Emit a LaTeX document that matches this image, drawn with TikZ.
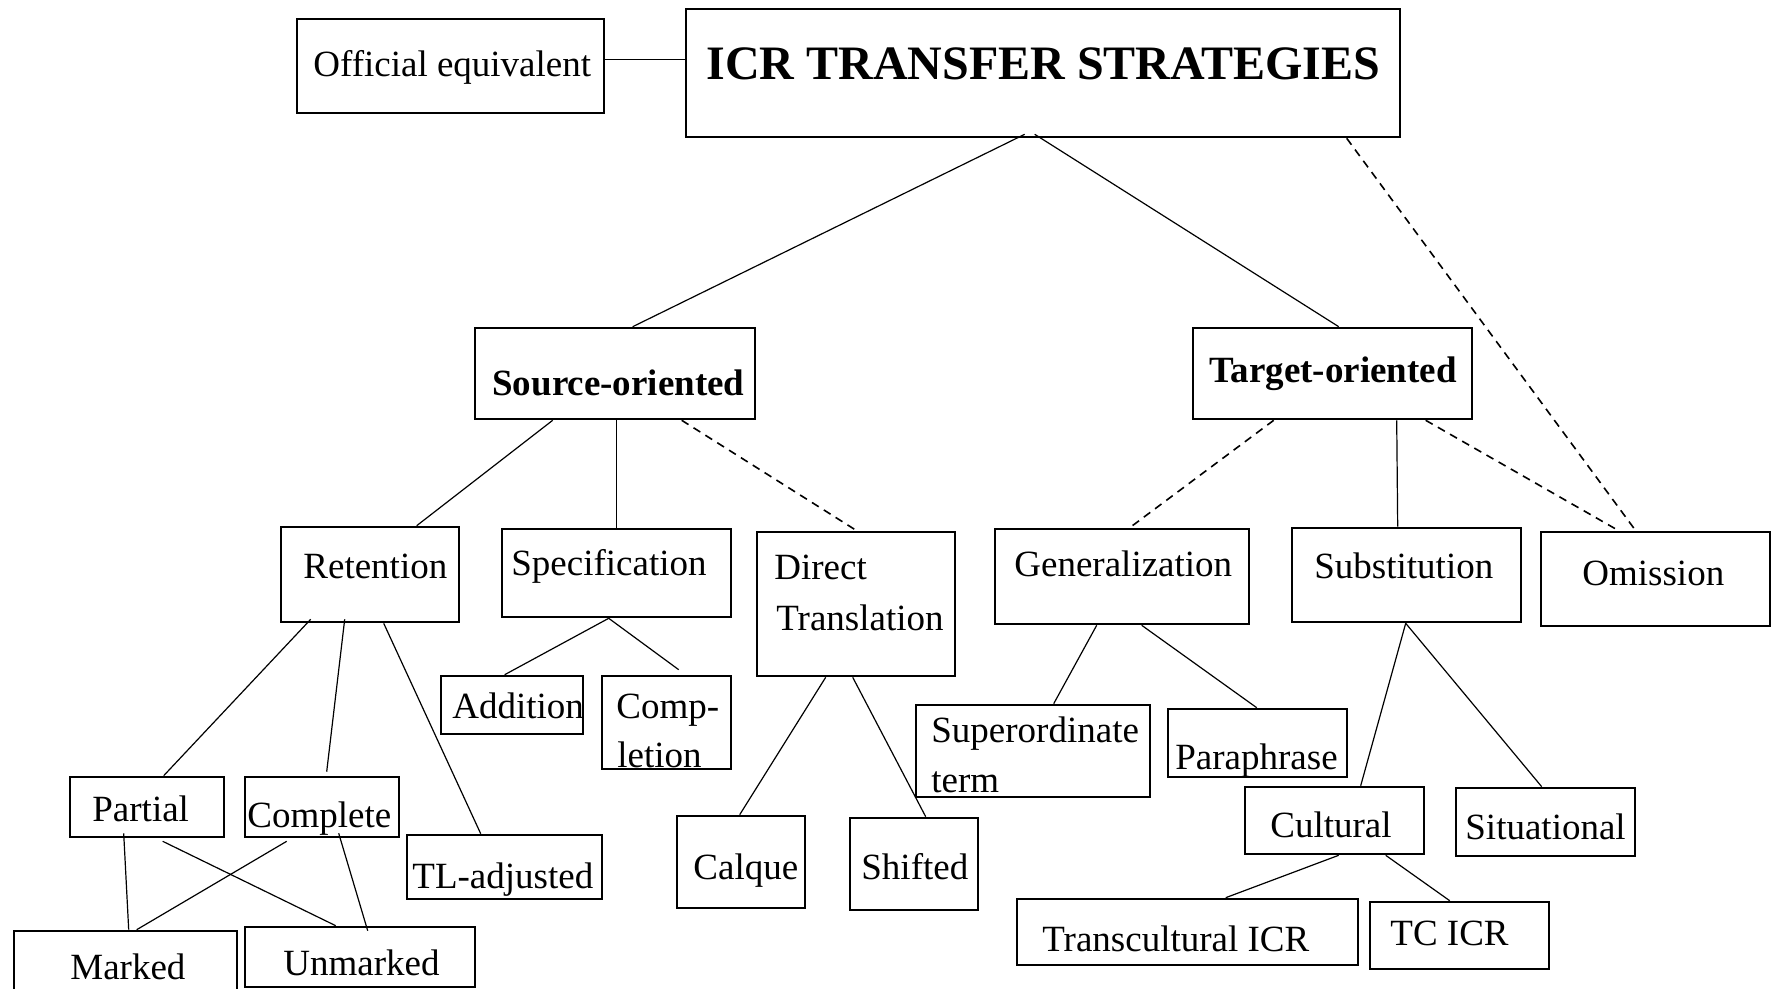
\documentclass[tikz,border=0pt]{standalone}
\usepackage{fontspec}
\setmainfont{Liberation Serif}
\usetikzlibrary{fit,calc}
\begin{document}
\begin{tikzpicture}[x=0.5pt,y=-0.5pt,
  bx/.style={draw, line width=1.3pt, inner sep=0pt, fit={#1}},
  tx/.style={anchor=base west, inner sep=0pt, yshift=-1.5pt, font=\fontsize{18.5}{22}\selectfont},
  btx/.style={anchor=base west, inner sep=0pt, yshift=-1.5pt, font=\fontsize{18.5}{22}\selectfont\bfseries},
  ttx/.style={anchor=base west, inner sep=0pt, yshift=-1pt, font=\fontsize{24}{28}\selectfont\bfseries},
  ln/.style={line width=0.6pt},
  dl/.style={line width=0.8pt, dash pattern=on 4pt off 3pt}]
\useasboundingbox (0,0) rectangle (1773,989);
% boxes
\node[bx={(297,19)(604,113)}] (off) {};
\node[bx={(686,9)(1400,137)}] (icr) {};
\node[bx={(475,328)(755,419)}] (src) {};
\node[bx={(1193,328)(1472,419)}] (tgt) {};
\node[bx={(281,527)(459,622)}] (ret) {};
\node[bx={(502,529)(731,617)}] (spec) {};
\node[bx={(757,532)(955,676)}] (dir) {};
\node[bx={(995,529)(1249,624)}] (gen) {};
\node[bx={(1292,528)(1521,622)}] (sub) {};
\node[bx={(1541,532)(1770,626)}] (omi) {};
\node[bx={(441,676)(583,734)}] (add) {};
\node[bx={(602,676)(731,769)}] (comp) {};
\node[bx={(916,705)(1150,797)}] (sup) {};
\node[bx={(1168,709)(1347,777)}] (para) {};
\node[bx={(70,777)(224,837)}] (part) {};
\node[bx={(245,777)(399,837)}] (cmpl) {};
\node[bx={(407,835)(602,899)}] (tla) {};
\node[bx={(677,816)(805,908)}] (calq) {};
\node[bx={(850,818)(978,910)}] (shif) {};
\node[bx={(1245,787)(1424,854)}] (cult) {};
\node[bx={(1456,788)(1635,856)}] (sit) {};
\node[bx={(14,931)(237,1000)}] (mark) {};
\node[bx={(245,927)(475,987)}] (unm) {};
\node[bx={(1017,899)(1358,965)}] (trans) {};
\node[bx={(1370,902)(1549,969)}] (tc) {};
% texts
\node[tx] (toff) at (313,74) {Official equivalent};
\node[ttx] (ticr) at (706,78) {ICR TRANSFER STRATEGIES};
\node[btx] (tsrc) at (492,393) {Source-oriented};
\node[btx] (ttgt) at (1209,380) {Target-oriented};
\node[tx] (tret) at (303,575) {Retention};
\node[tx] (tspec) at (511,572) {Specification};
\node[tx] (tdir1) at (774,577) {Direct};
\node[tx] (tdir2) at (776,627) {Translation};
\node[tx] (tgen) at (1014,573) {Generalization};
\node[tx] (tsub) at (1314,575) {Substitution};
\node[tx] (tomi) at (1582,582) {Omission};
\node[tx] (tadd) at (452,715) {Addition};
\node[tx] (tcomp1) at (616,715) {Comp-};
\node[tx] (tcomp2) at (617,764) {letion};
\node[tx] (tsup1) at (931,739) {Superordinate};
\node[tx] (tsup2) at (931,789) {term};
\node[tx] (tpara) at (1175,766) {Paraphrase};
\node[tx] (tpart) at (92,818) {Partial};
\node[tx] (tcmpl) at (247,824) {Complete};
\node[tx] (ttla) at (412,885) {TL-adjusted};
\node[tx] (tcalq) at (693,876) {Calque};
\node[tx] (tshif) at (861,876) {Shifted};
\node[tx] (tcult) at (1270,834) {Cultural};
\node[tx] (tsit) at (1465,836) {Situational};
\node[tx] (tmark) at (70,976) {Marked};
\node[tx] (tunm) at (283,972) {Unmarked};
\node[tx] (ttrans) at (1042,948) {Transcultural ICR};
\node[tx] (ttc) at (1390,942) {TC ICR};
% connectors
\draw[ln] ($(off.north east)+(0,42)$) -- ($(icr.north west)+(0,52)$);
\draw[ln] ($(icr.south west)+(340,-4)$) -- ($(src.north west)+(159,0)$);
\draw[ln] ($(icr.south west)+(350,-4)$) -- ($(tgt.north west)+(147,0)$);
\draw[dl] ($(icr.south west)+(662,0)$) -- ($(omi.north west)+(96,0)$);
\draw[ln] ($(src.south west)+(79,0)$) -- ($(ret.north west)+(137,0)$);
\draw[ln] ($(src.south west)+(143,0)$) -- ($(spec.north west)+(116,0)$);
\draw[dl] ($(src.south west)+(208,0)$) -- ($(dir.north west)+(101,0)$);
\draw[dl] ($(tgt.south west)+(82,0)$) -- ($(gen.north west)+(136,0)$);
\draw[ln] ($(tgt.south west)+(205,0)$) -- ($(sub.north west)+(107,0)$);
\draw[dl] ($(tgt.south west)+(234,0)$) -- ($(omi.north west)+(79,0)$);
\draw[ln] ($(ret.south west)+(31,-4)$) -- ($(part.north west)+(95,0)$);
\draw[ln] ($(ret.south west)+(65,-4)$) -- ($(cmpl.north west)+(83,-4)$);
\draw[ln] ($(ret.south west)+(104,0)$) -- ($(tla.north west)+(75,0)$);
\draw[ln] ($(spec.south west)+(108,0)$) -- ($(add.north west)+(65,0)$);
\draw[ln] ($(spec.south west)+(108,0)$) -- ($(comp.north west)+(78,-5)$);
\draw[ln] ($(dir.south west)+(70,0)$) -- ($(calq.north west)+(64,0)$);
\draw[ln] ($(dir.south west)+(97,0)$) -- ($(shif.north west)+(77,0)$);
\draw[ln] ($(part.south west)+(55,-5)$) -- ($(mark.north west)+(116,0)$);
\draw[ln] ($(part.south west)+(94,3)$) -- ($(unm.north west)+(92,0)$);
\draw[ln] ($(cmpl.south west)+(43,3)$) -- ($(mark.north west)+(124,0)$);
\draw[ln] ($(cmpl.south west)+(95,-5)$) -- ($(unm.north west)+(124,5)$);
\draw[ln] ($(gen.south west)+(103,0)$) -- ($(sup.north west)+(139,0)$);
\draw[ln] ($(gen.south west)+(148,0)$) -- ($(para.north west)+(90,0)$);
\draw[ln] ($(sub.south west)+(115,0)$) -- ($(cult.north west)+(117,0)$);
\draw[ln] ($(sub.south west)+(115,0)$) -- ($(sit.north west)+(87,0)$);
\draw[ln] ($(cult.south west)+(95,0)$) -- ($(trans.north west)+(210,0)$);
\draw[ln] ($(cult.south west)+(142,0)$) -- ($(tc.north west)+(81,0)$);
\end{tikzpicture}
\end{document}
